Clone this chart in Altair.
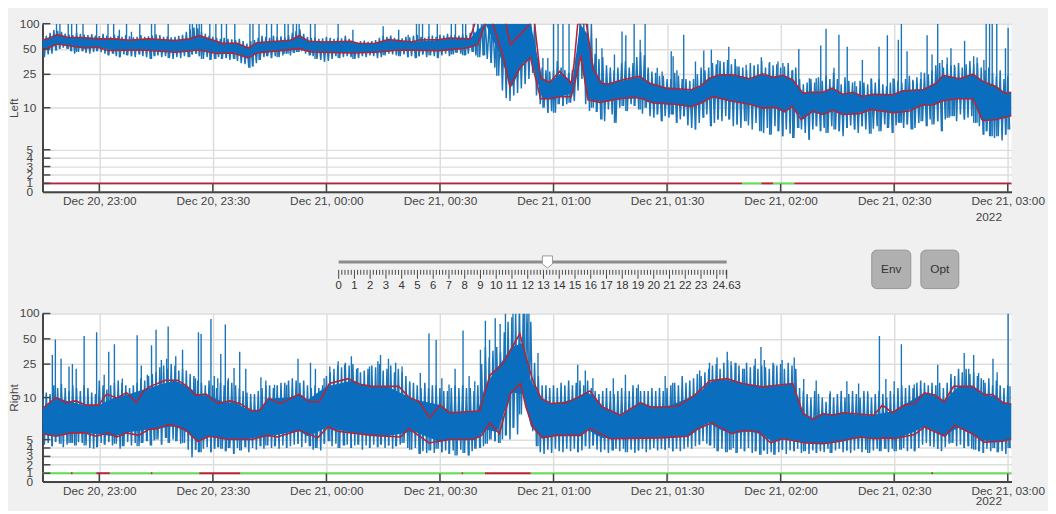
import numpy as np
import pandas as pd
import altair as alt

FONT = "Liberation Sans"
TXT = "#444444"
BLUE = "#0b6dbe"
BLUE2 = "#1a74b8"
RED = "#b3263a"
GREEN = "#63dd55"
W = 983
H = 170.5

# red envelopes, minutes after 22:45 and value
left_up_m = [0, 1.2, 3.9, 6.6, 11, 15.5, 19, 22.7, 28, 35, 38.8, 41.4, 44, 47.7, 51.2, 54.4, 56.6, 60.2, 65.5, 67.8,
             70.4, 74.5, 81.6, 83.4, 87.9, 91.4, 97.7, 99.5, 104.8, 107.5, 112.9, 114.2, 116, 121.5, 122.4, 123.6,
             127, 128.7, 129.5, 130, 131.6, 134, 136.6, 139.7, 140.4, 141.4, 143.7, 145.4, 147.6, 149.3, 153.3,
             157.7, 160.4, 164.8, 171.4, 174, 176.2, 178.9, 182.3, 186.8, 190.3, 193, 195.6, 198.2, 200.9, 202.6,
             206.2, 208.6, 211.4, 214.1, 216.7, 219.4, 224.7, 227.3, 232.6, 236.1, 237.9, 242.3, 245.8, 248.4,
             251.9, 254.1, 256]
left_up_v = [64, 66, 74, 69, 68, 66, 66, 63.5, 66, 63, 66, 72, 66, 58, 59, 51.4, 59.5, 61, 63.5, 72,
             61.7, 60.6, 61.7, 58, 58.5, 64.6, 60.6, 64, 64.6, 67.6, 66, 100, 140, 140, 100, 56,
             81, 100, 140, 100, 22.5, 20, 27, 19.6, 32.5, 100, 100, 29.6, 19.6, 19, 21.5,
             23.6, 19.6, 17.1, 16.4, 18.3, 22.5, 24.7, 24.7, 22.1, 25.4, 23.1, 24.3, 21.5, 14.9, 15.3,
             15.3, 17.1, 14.5, 15.3, 13.6, 14.5, 14.3, 15.9, 16.4, 19.6, 24.3, 22.1, 25.1, 20.6,
             17.9, 14.9, 15.3]
left_lo_m = [0, 1.7, 3.9, 6.6, 11, 14.6, 17.3, 26.3, 35.2, 41.4, 45.9, 50.4, 54.4, 56.6, 67.8, 70.9, 81.6, 87.9, 94.1,
             104.8, 112, 115, 116.9, 117.5, 118.3, 119, 121.8, 123.5, 126, 128.9, 131.6, 134, 136.6, 139.7, 141,
             142.2, 144.1, 147.2, 152.5, 156.4, 158.6, 161.3, 167.4, 171.4, 174, 177.1, 181.5, 186.8, 190.3, 193.8,
             196, 198.1, 200.4, 203.5, 206.2, 208.8, 211.4, 215.8, 218.9, 224.7, 229, 232.1, 235.2, 237.9, 241.4,
             245.8, 248.4, 251.9, 256]
left_lo_v = [48, 52, 57.4, 55, 51.4, 52.4, 48, 48.7, 45.7, 48.7, 44.1, 44.9, 39.2, 44.9, 50.5, 46.2, 44.9, 45.7, 48.7,
             47.8, 51.4, 56.3, 100, 140, 140, 100, 39, 17.8, 29.6, 39.7, 12.8, 12.8, 13.5, 13.5, 23.6,
             42, 12.4, 11.6, 12.8, 13.3, 12.8, 11.4, 11, 10.3, 11.4, 13.6, 12.1, 11, 9.95, 10.1,
             9.5, 10.4, 8.6, 9.6, 9.2, 9.7, 9.2, 9.3, 9.8, 9.4, 9.6, 10.7, 10.8, 12.1, 12.8,
             12.8, 8.45, 8.6, 9.05]
right_up_m = [0, 3.5, 6.2, 8.8, 11.5, 14.8, 16.9, 19.6, 22.2, 24.9, 26.7, 28.5, 32.5, 35.6, 37.9, 40.5, 43.2, 46.3,
              49.5, 52.1, 55.3, 57.5, 59.7, 62.9, 67.8, 70.4, 73.1, 75.8, 80.7, 83.8, 87, 94.1, 96.8, 99.5, 102.3,
              105, 107.5, 115.5, 118.2, 121.8, 126.1, 127.7, 129.5, 131.7, 134.4, 138.4, 141, 144.6, 147.8, 152.7,
              158, 161.1, 167.9, 172.3, 176.3, 180.8, 184.8, 190.2, 198.2, 200.9, 203.6, 206.2, 208.5, 211.6, 219.6,
              221.9, 224.5, 227.7, 230.4, 233, 235.7, 238.2, 240.7, 245.6, 248.7, 251, 253.6, 256]
right_up_v = [8.7, 10, 9.4, 9.6, 9.1, 9.1, 11, 9.96, 11.4, 9.4, 12, 13.6, 16.1, 16.1, 14, 10.7, 11, 9.3,
              9.6, 9.3, 8.4, 8.5, 9.9, 9.3, 11, 9.5, 9.5, 14.7, 16.8, 14.4, 13.6, 13.6, 10.1, 9.5, 7.6,
              9.1, 8.2, 8.4, 18.4, 25.9, 57.8, 30.5, 16.1, 9.9, 9.3, 9.4, 9.9, 12, 8.9, 7.9,
              9.4, 8.8, 9, 10.7, 15.8, 16.8, 14.7, 13.4, 14.7, 8.1, 7.4, 8.1, 7.9, 8.2, 7.9,
              9.1, 8.2, 9.1, 9.3, 11.4, 10.7, 9.5, 13.6, 13.6, 10.9, 10.9, 9.4, 9.2]
right_lo_m = [0, 3.5, 7.5, 11.1, 14.2, 17.3, 19.6, 22.2, 25.4, 28, 30.3, 33.4, 37.4, 41, 44.1, 49.5, 55.3, 59.3, 62,
              67.8, 72.7, 75.4, 78, 87, 94.6, 96.8, 102.1, 107.5, 113.8, 116, 118.2, 120.7, 123.6, 126.3, 127.7, 129.5,
              132.1, 135.7, 142.1, 144.6, 150, 163.4, 170.5, 173.2, 176.8, 182.1, 184.8, 189.2, 192.4, 195.5, 201.8,
              206.2, 210.7, 216, 219.6, 223.2, 225, 230.4, 233, 238.4, 241, 245.6, 248.7, 253.6, 256]
right_lo_v = [5.7, 5.4, 5.8, 5.8, 5.4, 5.8, 5.3, 5.8, 5.5, 6.2, 6.3, 6.8, 6.3, 4.8, 5.4, 5, 5, 5.5, 5.3,
              6.1, 5.2, 6.5, 6, 5.5, 5.3, 6.3, 4.6, 5, 5, 5.5, 7, 5.7, 11.2, 14.7, 8.9, 6.5,
              5.2, 5.5, 5.5, 6.3, 5.1, 5.2, 5.4, 6.3, 7, 5.7, 6.1, 5.9, 4.6, 5.1, 4.6,
              4.5, 4.8, 5.3, 5.1, 5.2, 5.1, 5.6, 6.5, 5.4, 6.7, 5.7, 4.7, 4.8, 5.1]

# solid part of the blue trace
body_m = [0, 2, 4, 7, 11, 15, 19, 23, 28, 35, 39, 41, 44, 48, 51, 54, 57, 60, 65, 68,
          70, 75, 82, 84, 88, 91, 98, 105, 108, 113, 115, 117, 120, 124, 127, 129, 132, 134, 137, 140,
          142, 144, 146, 148, 153, 158, 160, 165, 171, 174, 176, 179, 182, 187, 190, 193, 196, 198, 201, 203,
          206, 209, 211, 214, 217, 219, 225, 227, 233, 236, 238, 242, 246, 248, 252, 254, 256]
left_body_hi = [64, 67, 74, 69, 68, 66, 66, 64, 66, 63, 66, 71, 66, 58, 59, 52, 60, 61, 63, 72,
                62, 61, 61, 58, 58, 64, 61, 64, 67, 66, 85, 100, 100, 100, 100, 100, 22, 20, 26, 20,
                100, 75, 26, 19, 21, 23, 20, 17, 16, 18, 22, 24.5, 24.5, 22, 25, 23, 24, 21.5, 15, 15,
                15, 17, 14.5, 15, 13.6, 14.5, 14.3, 15.8, 16.6, 19.5, 24, 22, 25, 21, 18, 15, 15]
left_body_lo = [48, 52, 57, 55, 51, 52, 48, 48, 48, 46, 47, 49, 46, 44, 45, 39, 45, 46, 48, 50,
                47, 46, 45, 45, 46, 47, 48, 48, 48, 52, 56, 100, 52, 17.6, 34, 39, 13, 13, 13.5, 15,
                42, 13, 12, 11.7, 12.8, 13, 11.6, 11, 10.3, 11.4, 13, 13, 12, 11, 10, 10, 9.5, 10.4, 8.6, 9.5,
                9.2, 9.7, 9.2, 9.3, 9.5, 9.8, 9.4, 9.5, 10.7, 10.9, 12, 12.8, 12.8, 8.5, 8.6, 8.8, 9.05]
right_body_hi = [8.7, 9.5, 10, 9.5, 9.1, 9.1, 10, 11, 13, 16, 13, 10.8, 10.6, 9.4, 9.4, 8.6, 8.5, 9.9, 10, 11,
                 9.7, 13.5, 16, 14.4, 13.6, 13.6, 9.8, 9.1, 8.2, 8.4, 8.4, 14, 22, 40, 45, 16, 9.8, 9.3, 9.4, 9.8,
                 10.5, 11.6, 10, 8.9, 7.9, 9.4, 9, 8.9, 10, 12, 15, 16.5, 16, 14.2, 13.4, 13.6, 14, 14.7, 8.1, 7.5,
                 8.1, 8, 8.2, 8, 7.9, 7.9, 8.4, 9, 11.4, 10.5, 9.5, 13.6, 13.6, 11, 10.4, 9.4, 9.2]
right_body_lo = [5.7, 5.5, 5.4, 5.8, 5.8, 5.6, 5.4, 5.9, 6.2, 6.6, 5.7, 4.8, 5.4, 5, 5, 5, 5.3, 5.4, 5.8, 6,
                 5.4, 6.4, 5.8, 5.7, 5.5, 5.4, 6, 4.7, 5, 5, 5.2, 6.2, 5.9, 11.5, 11, 6.6, 5.2, 5.4, 5.5, 5.5,
                 5.5, 6.2, 5.6, 5.2, 5.1, 5.1, 5.2, 5.2, 5.5, 6.5, 7, 6.2, 5.7, 6, 5.6, 4.7, 5.1, 4.9, 4.6, 4.6,
                 4.5, 4.7, 4.8, 5.1, 5.2, 5.1, 5.1, 5.3, 6.5, 6, 5.5, 6.4, 5.6, 4.9, 4.8, 4.8, 5.1]

# highest and lowest reading per minute
left_max = [70, 72, 78, 84, 82, 80, 76, 74, 73, 78, 76, 74, 73, 75, 72, 71, 76, 72, 70, 74,
            72, 70, 73, 71, 69, 70, 73, 70, 71, 72, 75, 73, 70, 71, 69, 70, 72, 74, 80, 86,
            90, 88, 80, 76, 72, 70, 68, 66, 68, 66, 65, 64, 66, 62, 58, 62, 64, 68, 72, 70,
            68, 72, 70, 71, 69, 73, 78, 82, 86, 76, 70, 68, 69, 66, 67, 70, 68, 66, 68, 67,
            72, 66, 62, 60, 62, 63, 61, 62, 64, 68, 72, 70, 72, 68, 66, 67, 70, 69, 72, 74,
            70, 68, 71, 72, 70, 74, 72, 76, 73, 74, 72, 75, 73, 78, 80, 100, 100, 100, 100, 100,
            100, 100, 100, 100, 100, 100, 100, 100, 100, 100, 100, 34, 30, 28, 27, 28, 36, 30, 28, 26,
            28, 40, 100, 100, 100, 100, 44, 38, 40, 32, 30, 28, 30, 34, 36, 30, 34, 40, 46, 42,
            30, 27, 26, 24, 24, 22, 22, 26, 24, 22, 22, 21, 22, 25, 30, 28, 30, 34, 33, 36,
            35, 37, 33, 38, 31, 30, 28, 34, 32, 33, 36, 30, 34, 32, 33, 30, 31, 34, 28, 30,
            22, 19, 20, 22, 20, 23, 21, 24, 22, 26, 22, 19, 23, 21, 20, 18, 21, 20, 19, 22,
            20, 22, 19, 18, 20, 22, 21, 20, 22, 24, 21, 23, 22, 26, 25, 28, 32, 34, 30, 33,
            32, 31, 34, 30, 33, 36, 33, 34, 30, 28, 30, 26, 24, 28, 22, 24]
left_min = [40, 43, 44, 48, 50, 52, 50, 47, 44, 46, 47, 45, 44, 46, 47, 46, 44, 42, 44, 41,
            40, 43, 42, 41, 40, 43, 41, 40, 38, 41, 42, 40, 41, 39, 38, 40, 39, 41, 40, 43,
            44, 41, 38, 40, 37, 38, 40, 38, 39, 37, 38, 36, 34, 33, 30, 31, 34, 37, 40, 41,
            39, 41, 40, 42, 44, 42, 45, 46, 47, 44, 42, 41, 38, 37, 35, 36, 38, 41, 39, 40,
            41, 40, 38, 39, 41, 40, 42, 41, 39, 40, 42, 44, 43, 42, 41, 43, 40, 41, 39, 41,
            43, 40, 42, 41, 39, 42, 44, 41, 43, 45, 44, 42, 44, 46, 42, 40, 42, 38, 34, 30,
            24, 16, 13, 12, 14, 15, 17, 19, 22, 26, 14, 11, 10, 9.4, 9.6, 9.4, 11, 10.5, 11, 11.5,
            12, 16, 22, 11, 9.6, 10, 9.5, 8.6, 8.4, 9.8, 9.2, 8.2, 10, 10.5, 9.6, 11, 10.5, 9.8, 9.3, 10,
            9, 8.8, 9.2, 8.4, 9, 8.8, 9.2, 8.2, 8.6, 9, 7.9, 7.6, 7.4, 8.2, 8.8, 9.2, 7.8, 8.2, 8.6, 8.4,
            9, 8.6, 7.8, 8, 7.6, 8.4, 7.9, 7.4, 8.2, 7.2, 7, 7.6, 6.8, 7.8, 7.2, 6.6, 7.4, 6.9, 6.4, 7.6,
            7.4, 7, 6.2, 7.4, 7.8, 7.2, 7.6, 7, 7.8, 7.4, 7.2, 6.6, 7.6, 7.9, 7.4, 7, 7.8, 7.4, 6.9, 7.5,
            7.8, 7.2, 8, 7.6, 7, 7.9, 8.2, 7.6, 8, 7.4, 7.6, 8.2, 8.4, 7.8, 8.6, 8, 8.4, 7.2, 8.6, 8.8,
            9, 8.4, 9.2, 8.6, 8.8, 9, 8.2, 7.8, 6.8, 7.2, 6.6, 6.4, 6.6, 6.1, 6.8, 7.4]
right_max = [11, 11.5, 11, 14, 13, 14.5, 13, 12, 14, 13, 12, 14, 13, 11.5, 11, 16, 14, 12.5, 14, 15,
             16, 15, 14, 13, 14, 15, 17, 16, 18, 19, 20, 23, 24, 22, 25, 24, 21, 22, 21, 19,
             18, 16, 15, 14, 16, 14, 13, 15, 14, 16, 15, 14, 13, 12, 11.5, 11, 11, 12, 13, 14,
             14, 13, 14, 15, 15, 16, 17, 16, 15, 16, 14, 13, 14, 13, 14, 18, 20, 22, 24, 23,
             26, 24, 25, 22, 20, 21, 22, 24, 23, 25, 21, 22, 24, 20, 22, 20, 18, 15, 15, 14,
             13, 15, 13, 14, 14, 13, 12, 12, 13, 14, 13, 14, 13, 13, 12, 14, 25, 40, 30, 36,
             40, 35, 60, 80, 90, 100, 100, 100, 100, 80, 26, 18, 14, 14, 13, 14, 13, 15, 14, 16,
             14, 15, 16, 14, 16, 13, 12, 11, 12, 13, 12, 11, 12, 13, 12, 12, 14, 13, 12, 12,
             12, 13, 12, 13, 12, 13, 14, 15, 14, 18, 15, 16, 17, 19, 18, 20, 22, 24, 25, 22,
             26, 28, 24, 26, 24, 22, 26, 23, 24, 22, 24, 23, 22, 26, 24, 25, 22, 26, 24, 22,
             13, 12, 11, 10, 12, 11, 10, 9.5, 11, 10, 11, 12, 10, 11, 12, 11, 10, 12, 11, 10,
             11, 12, 11, 10, 12, 11, 13, 14, 13, 14, 13, 15, 16, 15, 14, 15, 14, 15, 13, 15,
             19, 18, 22, 20, 22, 19, 20, 18, 17, 15, 17, 14, 16, 14, 13, 14]
right_min = [4.4, 4.6, 4.2, 4.7, 4.5, 4.1, 4.4, 4.6, 4.3, 4.7, 4.6, 4.3, 4, 3.9, 4.1, 4.6, 4.4, 4.7, 4.3, 4.5,
             3.9, 4.2, 4.7, 4.3, 4.6, 4.2, 4.6, 4.8, 4.3, 4.9, 5, 4.4, 5.2, 4.6, 5, 4.8, 4.5, 4.6, 3.8, 2.9,
             3.8, 3.5, 3.9, 4.1, 3.5, 3.9, 4.1, 3.9, 3.6, 4, 3.3, 4, 3.7, 4.1, 3.5, 4, 3.8, 4.2, 3.9, 4.3,
             4, 4.2, 3.9, 4.3, 4, 4.2, 4.4, 4.5, 4.1, 4.6, 4.2, 3.8, 4, 3.7, 4.5, 4.8, 4.2, 4.5, 4, 4.3,
             4.4, 4, 4.3, 4.4, 3.8, 4.3, 4, 4.4, 4.1, 4.4, 4, 4.3, 3.9, 4.2, 4.4, 4.6, 4, 3.8, 4, 3.3,
             3.6, 3.4, 3.7, 3.4, 3.9, 3.5, 3.7, 3.3, 3.7, 3.1, 3.8, 3.4, 3.1, 3.6, 3.9, 4, 4.2, 4.5, 5, 4.8,
             4.6, 5, 5.5, 5, 6.4, 5.6, 8, 10, 9, 6, 4.2, 3.5, 3.3, 3.8, 3.4, 3.9, 3.6, 3.5, 3.9, 3.6,
             3.9, 3.5, 3.7, 4.2, 3.9, 4.3, 3.8, 3.5, 3.8, 3.4, 3.7, 3.9, 3.6, 3.9, 3.5, 3.8, 3.4, 3.7, 3.9, 3.5,
             3.8, 4, 3.7, 3.9, 3.8, 4, 3.6, 3.9, 3.6, 3.9, 4.1, 3.9, 4.2, 4.4, 4.8, 4.5, 4.3, 4, 3.6, 3.9,
             3.5, 3.8, 4, 3.4, 3.9, 3.6, 4, 3.4, 3.6, 3.2, 3.7, 3.3, 3.5, 3.2, 3.5, 3.8, 3.3, 3.7, 3.6, 3.9,
             3.4, 3.6, 3.3, 3.7, 3.4, 3.6, 3.5, 3.9, 3.4, 3.7, 3.9, 3.5, 3.7, 3.4, 3.7, 3.9, 3.5, 3.8, 3.4, 3.7,
             3.9, 3.6, 3.9, 3.5, 3.9, 3.6, 3.8, 4, 3.6, 3.9, 3.6, 4, 4.4, 4.6, 4.2, 4.1, 3.9, 3.6, 4.1, 4.5,
             4.6, 4.2, 4.4, 4, 4.2, 3.9, 3.8, 3.6, 3.4, 3.9, 3.6, 4, 3.5, 3.6, 3.3, 4]

# tall spikes
left_spike_m = [3.7, 4.6, 6.8, 7.7, 9, 10.7, 14.3, 17.3, 18.8, 20.3, 22.2, 23.5, 25.7, 28.8, 29.7, 33.2, 38.9, 39.6,
                40.7, 41.4, 42, 44.2, 45.8, 47.3, 48.6, 50.8, 54.8, 55.6, 57.2, 59.2, 60.5, 62, 64, 64.9, 66.2, 67.1,
                67.8, 70.8, 72, 78.1, 82, 90, 94.1, 96.6, 98.8, 99.5, 100.4, 102.1, 104.3, 108, 109.1, 111, 111.8,
                113.8, 115, 116.4, 116.8, 118.6, 120, 132.2, 133.5, 135, 136.2, 137.5, 139.1,
                145, 146.3, 147.8, 151.1, 153.1, 154.1, 156.3, 157.9, 159.2, 162.4, 163.7, 166.1, 166.6, 167.6, 169.4,
                172.5, 174.7, 176.7, 178.4, 181.3, 183.5, 185.9, 189.9, 192.1, 194.3, 195.6, 198.2, 199.8, 202.6,
                204.4, 205.6, 207, 209.1, 210.4, 212.6, 214.6, 216.6, 218.9, 221, 223.2, 224.7, 226.1, 226.9, 228.4,
                229.9, 232.1, 233.7, 235, 236.5, 237.7, 239, 240, 240.9, 243.6, 246, 246.9, 248.7, 249.3, 250.2,
                250.9, 252.1, 254.4, 255.1]
left_spike_v = [100, 100, 100, 100, 100, 100, 100, 100, 100, 85, 100, 80, 100, 100, 100, 100, 100, 100,
                100, 100, 100, 100, 100, 100, 100, 100, 100, 100, 100, 100, 100, 100, 100, 100, 100, 100,
                100, 100, 100, 100, 85, 93, 85, 74, 100, 100, 100, 100, 100, 100, 100, 100, 100,
                100, 100, 100, 100, 100, 100, 39, 39, 100, 100, 100, 100,
                49, 67, 51, 43, 81, 73, 100, 64.5, 100, 30, 27, 47, 41, 28, 74,
                35.6, 48, 49, 37, 53, 31, 32.5, 40, 35, 35.6, 34, 28, 50, 22.5,
                22.5, 55, 87, 30, 74, 53, 20.6, 37, 22.5, 53, 73, 22.5, 64.5, 100, 47,
                21.5, 26.5, 73, 43, 100, 37, 39.7, 51, 32.5, 62.8, 41, 39.7, 37, 100, 100,
                100, 100, 51, 89]
right_spike_m = [2.6, 3.4, 4.9, 7, 7.9, 8.9, 11, 14.3, 16.3, 17.5, 19, 21.1, 25, 26.1, 27.7, 28.8, 30, 31.4, 32.8, 33.2,
                 35.2, 37, 40.4, 41.2, 41.9, 44.5, 45.4, 46.3, 47.1, 48.3, 49.1, 50.6, 52.1, 53.7, 57.7, 59, 61.3, 64.5,
                 67.5, 70.8, 72.1, 74.4, 75.9, 78.1, 79.8, 81.6, 83.3, 86.4, 88.6, 89.3, 91.4, 93.3, 95, 97, 99.8,
                 102.1, 104, 105.5, 107.4, 109, 111.1, 112.7, 114.2, 115.7, 117, 118.1, 119.6, 120.9, 122.3, 124.3, 126,
                 127.4, 128.5, 130.9, 141.4, 143.4, 145.4, 150.8, 154, 157.4, 164.5, 166.5, 173.6, 176.2, 178.2, 180.9,
                 181.9, 183.2, 185.4, 188.3, 189.8, 190.7, 193.2, 195.4, 198.6, 201.1, 204.4, 208.1, 212.5, 215.6, 218,
                 221.1, 222.8, 225, 226.9, 230.3, 236.5, 240, 243.5, 244.7, 246, 247.3, 248.6, 251.1, 252.2, 255.1, 255.6]
right_spike_v = [32, 49, 29, 23.5, 25, 22, 54, 60, 18.7, 35, 43, 16.8, 55, 24, 18.7, 42, 64, 28, 29, 70,
                 31, 37, 17, 60, 57, 86, 18, 17, 33, 74, 17, 22.5, 35, 22, 17.4, 16, 14.2, 14.2,
                 29, 26, 22, 17, 23.5, 27, 24.5, 31, 22.5, 23.5, 27, 32, 29, 26, 23.5, 15.6, 19.6,
                 58, 48.5, 17, 14.3, 22, 63, 18, 15.6, 37, 82, 48.5, 88, 75, 100, 100, 100,
                 100, 100, 34, 24.5, 21, 17, 17, 18.7, 14.3, 18, 15, 21, 26, 30, 35,
                 27, 25.7, 22, 29, 40, 28, 24.5, 28, 30, 16.6, 16, 11.9, 15.6, 14.7, 11.9,
                 54, 16.6, 15.6, 43, 14.3, 24.5, 16.6, 34, 22, 32, 19.6, 16.2, 29, 20, 100, 13.6]

# status strip at value 1: start, end, colour
left_state = [(0, 184.8, RED), (184.8, 189.9, GREEN), (189.9, 193, RED), (193, 198.6, GREEN), (198.6, 256, RED)]
right_state = [(0, 7.5, GREEN), (7.5, 8, RED), (8, 14.2, GREEN), (14.2, 17.8, RED), (17.8, 28.6, GREEN),
               (28.6, 29.1, RED), (29.1, 41.4, GREEN), (41.4, 52.3, RED), (52.3, 110.7, GREEN), (110.7, 111.2, RED),
               (111.2, 116.9, GREEN), (116.9, 129, RED), (129, 234.8, GREEN), (234.8, 235.3, RED), (235.3, 256, GREEN)]

y_ticks = [0, 1, 2, 3, 4, 5, 10, 25, 50, 100]
x_tick_m = [15, 45, 75, 105, 135, 165, 195, 225, 255]

slider_pos = 13.25
slider_end = 24.63
slider_labels = list(range(24)) + [slider_end]


def pos(v):
    # axis is linear up to 10, logarithmic above
    v = np.asarray(v, dtype=float)
    return np.where(v <= 10, v / 10, np.log10(np.maximum(v, 1e-6)))


def panel(name, up, lo, body_hi, body_lo, vmax, vmin, spikes, state, year_y):
    x = alt.X(
        "m:Q",
        title=None,
        scale=alt.Scale(domain=[0, 256], nice=False, zero=False),
        axis=alt.Axis(
            values=x_tick_m,
            labelExpr="timeFormat(datetime(2022, 11, 20, 22, 45 + datum.value), '%b %d, %H:%M')",
            ticks=False,
            labelFont=FONT,
            labelFontSize=12,
            labelColor=TXT,
            labelPadding=4,
            labelOverlap=False,
            gridColor="#dddddd",
            gridWidth=1.5,
            domainColor=TXT,
            domainWidth=2,
        ),
    )
    y = alt.Y(
        "p:Q",
        title=name,
        scale=alt.Scale(domain=[0, 2], nice=False),
        axis=alt.Axis(
            values=[float(pos(v)) for v in y_ticks],
            ticks=False,
            labels=False,
            titleFont=FONT,
            titleFontSize=12,
            titleFontWeight="normal",
            titleColor=TXT,
            titlePadding=22,
            gridColor="#dddddd",
            gridWidth=1.5,
            domainColor=TXT,
            domainWidth=2,
        ),
    )

    # blue trace swings between each minute's high and low
    trace = pd.DataFrame({
        "m": [t for i in range(len(vmax)) for t in (i, i + 0.5)],
        "p": pos([v for pair in zip(vmax, vmin) for v in pair]),
    })
    body = pd.DataFrame({"m": body_m, "p": pos(body_hi), "p2": pos(body_lo)})
    sm, sv = spikes
    tall = pd.DataFrame({
        "m": sm,
        "p": pos(sv),
        "p2": pos([vmin[min(int(m), len(vmin) - 1)] for m in sm]),
    })
    upper = pd.DataFrame({"m": up[0], "p": pos(up[1])})
    lower = pd.DataFrame({"m": lo[0], "p": pos(lo[1])})
    strip = pd.DataFrame({
        "m": [s[0] for s in state],
        "m2": [s[1] for s in state],
        "c": [s[2] for s in state],
        "p": pos([1] * len(state)),
    })
    xt = pd.DataFrame({"m": x_tick_m})
    yt = pd.DataFrame({"p": pos(y_ticks[1:])})
    yl = pd.DataFrame({"p": pos(y_ticks), "s": [str(v) for v in y_ticks]})
    year = pd.DataFrame({"m": [250]})

    layers = [
        alt.Chart(trace).mark_line(color=BLUE2, strokeWidth=1.5, clip=True).encode(x=x, y=y),
        alt.Chart(tall).mark_rule(color=BLUE2, strokeWidth=1.4, clip=True).encode(x=x, y=y, y2="p2:Q"),
        alt.Chart(body).mark_area(color=BLUE, clip=True).encode(x=x, y=y, y2="p2:Q"),
        alt.Chart(upper).mark_line(color=RED, strokeWidth=1.6, clip=True).encode(x=x, y=y),
        alt.Chart(lower).mark_line(color=RED, strokeWidth=1.6, clip=True).encode(x=x, y=y),
        alt.Chart(strip).mark_rule(strokeWidth=2).encode(
            x=x, x2="m2:Q", y=y, color=alt.Color("c:N", scale=None)
        ),
        alt.Chart(xt).mark_rule(color=TXT, strokeWidth=1.5).encode(x=x, y=alt.value(H - 8), y2=alt.value(H)),
        alt.Chart(yt).mark_rule(color=TXT, strokeWidth=1.5).encode(x=alt.value(0), x2=alt.value(8), y=y),
        alt.Chart(yl).mark_text(font=FONT, fontSize=12, color=TXT, align="center", baseline="middle").encode(
            x=alt.value(-13), y=y, text="s:N"
        ),
        alt.Chart(year).mark_text(text="2022", font=FONT, fontSize=12, color=TXT).encode(
            x=x, y=alt.value(year_y)
        ),
    ]
    return alt.layer(*layers).properties(
        width=W, height=H, view=alt.ViewBackground(fill="#ffffff", stroke=None)
    )


def controls():
    # slider ruler shares a scale with the ruler numbers
    sx = alt.X("v:Q", axis=None, scale=alt.Scale(domain=[-18.8, 42.71], nice=False, zero=False))
    ticks = pd.DataFrame({"v": [round(i * 0.2, 1) for i in range(124)] + [slider_end]})
    ticks["major"] = [abs(v - round(v)) < 0.01 or v == slider_end for v in ticks["v"]]
    labels = pd.DataFrame({"v": slider_labels, "s": [str(v) for v in slider_labels]})
    track = pd.DataFrame({"v": [0], "v2": [slider_end]})
    thumb = pd.DataFrame({"v": [slider_pos]})
    buttons = [("Env", 841.2, 880.8), ("Opt", 891, 929.5)]

    top = 38.7
    layers = [
        alt.Chart(track).mark_rule(color="#8c8c8c", strokeWidth=3).encode(
            x=sx, x2="v2:Q", y=alt.value(top)
        ),
        alt.Chart(ticks[~ticks["major"]]).mark_rule(color="#333333", strokeWidth=0.9).encode(
            x=sx, y=alt.value(top + 8), y2=alt.value(top + 13)
        ),
        alt.Chart(ticks[ticks["major"]]).mark_rule(color="#333333", strokeWidth=0.9).encode(
            x=sx, y=alt.value(top + 8), y2=alt.value(top + 17)
        ),
        alt.Chart(labels).mark_text(font=FONT, fontSize=11.5, color="#333333").encode(
            x=sx, y=alt.value(top + 24), text="s:N"
        ),
        alt.Chart(thumb).mark_point(
            shape="M-1,-1.1 L1,-1.1 L1,0.5 L0,1.3 L-1,0.5 Z",
            filled=True, fill="#ffffff", stroke="#999999", strokeWidth=1, opacity=1, size=105,
        ).encode(x=sx, y=alt.value(top - 0.5)),
    ]
    for label, a, b in buttons:
        one = pd.DataFrame({"s": [label]})
        layers.append(
            alt.Chart(one).mark_rect(
                color="#b0b0b0", stroke="#949494", strokeWidth=1, cornerRadius=5
            ).encode(x=alt.value(a), x2=alt.value(b), y=alt.value(top - 12), y2=alt.value(top + 27))
        )
        layers.append(
            alt.Chart(one).mark_text(font=FONT, fontSize=12, color="#333333").encode(
                x=alt.value((a + b) / 2), y=alt.value(top + 7), text="s:N"
            )
        )
    return alt.layer(*layers).properties(width=W, height=84.5)


top_panel = panel(
    "Left", (left_up_m, left_up_v), (left_lo_m, left_lo_v), left_body_hi, left_body_lo,
    left_max, left_min, (left_spike_m, left_spike_v), left_state, H + 26,
)
bottom_panel = panel(
    "Right", (right_up_m, right_up_v), (right_lo_m, right_lo_v), right_body_hi, right_body_lo,
    right_max, right_min, (right_spike_m, right_spike_v), right_state, H + 20,
)

chart = (
    alt.vconcat(top_panel, controls(), bottom_panel, spacing=0)
    .properties(background="#f0f0f0", padding={"left": 0, "top": 6.3, "right": 3, "bottom": 0})
    .configure_view(stroke=None)
)

chart.save("out.html", embed_options={"renderer": "svg", "actions": False})
